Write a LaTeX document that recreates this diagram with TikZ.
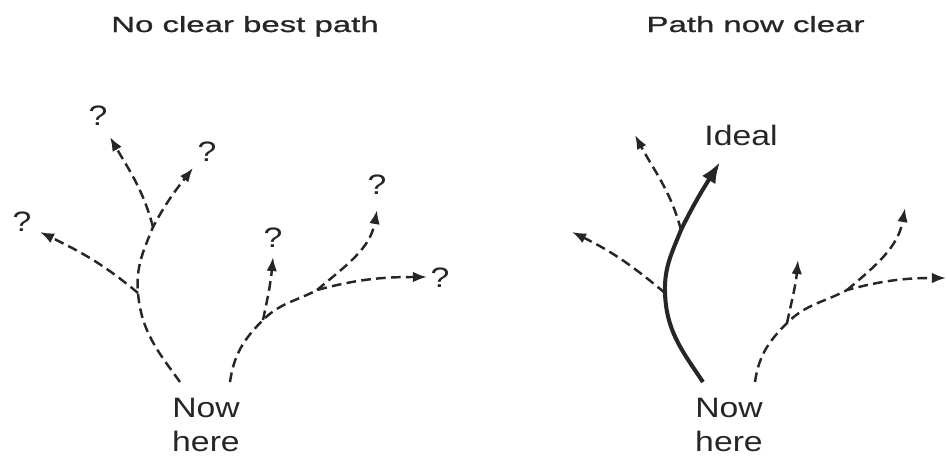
\documentclass[tikz,border=0pt]{standalone}
\usepackage{fontspec}
\setmainfont{Liberation Sans}[FakeStretch=1.2]
\newfontfamily\titlefont{Liberation Sans}[FakeStretch=1.5, FakeBold=1]
\usetikzlibrary{arrows.meta}

\begin{document}
\begin{tikzpicture}[color=black!85,
    branch/.style={line width=1.4pt, dash pattern=on 5.5pt off 3pt, -{Latex[length=8pt,width=6pt]}},
    bestpath/.style={line width=2.3pt, -{Latex[length=12pt,width=9pt]}},
    lbl/.style={font=\fontsize{16}{19.4}\selectfont, inner sep=0pt},
    titletext/.style={font=\titlefont\fontsize{12.5}{14}\selectfont, anchor=base}]
        \useasboundingbox (0, 0) rectangle (18.94, 9.14);
        \node [titletext] (titleL) at (4.9, 8.5) {No clear best path};
        \node [titletext] (titleR) at (15.11, 8.5) {Path now clear};

        % no clear best path
        \node [lbl, align=center] (nowL) at (4.12, 0.64) {Now\\here};
        \coordinate (sL) at (3.6, 1.5);
        \coordinate (jA) at (2.76, 3.28);
        \coordinate (fA) at (3.06, 4.6);
        \coordinate (tA) at (0.8, 4.5);
        \coordinate (tB) at (2.2, 6.4);
        \coordinate (tC) at (3.86, 5.78);
        \draw [branch] (sL) to[out=126, in=-85] (jA) to[out=95, in=-112] (fA) to[out=62, in=-128] (tC);
        \draw [branch] (jA) to[out=140, in=-26] (tA);
        \draw [branch] (fA) to[out=105, in=-60] (tB);

        \coordinate (sR) at (4.6, 1.5);
        \coordinate (jB) at (5.26, 2.74);
        \coordinate (fB) at (6.34, 3.34);
        \coordinate (tD) at (5.46, 4.0);
        \coordinate (tE) at (7.54, 4.94);
        \coordinate (tF) at (8.54, 3.6);
        \draw [branch] (sR) to[out=82, in=-135] (jB) to[out=45, in=-152] (fB) to[out=15, in=180] (tF);
        \draw [branch] (jB) to[out=78, in=-95] (tD);
        \draw [branch] (fB) to[out=40, in=-100] (tE);

        \node [lbl] (qA) at (0.44, 4.7) {?};
        \node [lbl] (qB) at (1.96, 6.82) {?};
        \node [lbl] (qC) at (4.14, 6.1) {?};
        \node [lbl] (qD) at (5.46, 4.38) {?};
        \node [lbl] (qE) at (7.54, 5.44) {?};
        \node [lbl] (qF) at (8.8, 3.58) {?};

        % path now clear
        \node [lbl, align=center] (nowR) at (14.58, 0.64) {Now\\here};
        \node [lbl, anchor=base] (ideal) at (14.82, 6.24) {Ideal};
        \coordinate (sM) at (14.06, 1.5);
        \coordinate (jM) at (13.3, 3.28);
        \coordinate (fM) at (13.62, 4.54);
        \coordinate (tM) at (14.4, 5.9);
        \coordinate (tG) at (11.44, 4.5);
        \coordinate (tH) at (12.7, 6.44);
        \draw [bestpath] (sM) to[out=124, in=-88] (jM) to[out=92, in=-112] (fM) to[out=64, in=-122] (tM);
        \draw [branch] (jM) to[out=140, in=-26] (tG);
        \draw [branch] (fM) to[out=105, in=-62] (tH);

        \coordinate (sN) at (15.1, 1.5);
        \coordinate (jN) at (15.74, 2.68);
        \coordinate (fN) at (16.94, 3.34);
        \coordinate (tJ) at (15.96, 3.94);
        \coordinate (tK) at (18.1, 4.98);
        \coordinate (tL) at (18.92, 3.58);
        \draw [branch] (sN) to[out=82, in=-135] (jN) to[out=45, in=-152] (fN) to[out=15, in=180] (tL);
        \draw [branch] (jN) to[out=78, in=-95] (tJ);
        \draw [branch] (fN) to[out=40, in=-100] (tK);
      \end{tikzpicture}
\end{document}
